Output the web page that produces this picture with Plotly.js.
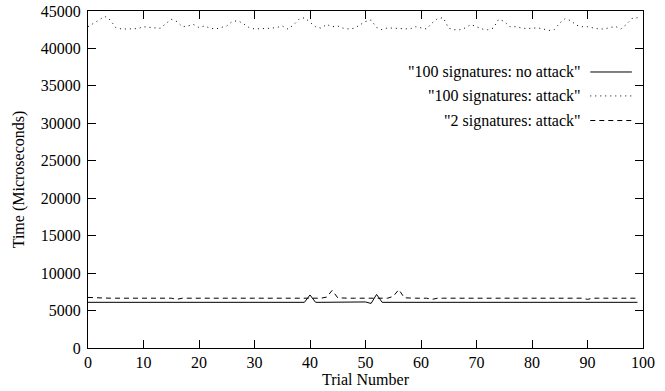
<!DOCTYPE html>
<html>
<head>
<meta charset="utf-8">
<script src="https://cdn.plot.ly/plotly-3.0.1.min.js"></script>
<style>html,body{margin:0;padding:0;background:#fff;}#chart{width:665px;height:391px;}</style>
</head>
<body>
<div id="chart"></div>
<script>
// Trial numbers 0..99
var trials = [];
for (var i = 0; i < 100; i++) trials.push(i);

var seriesNames = ['"100 signatures: no attack"', '"100 signatures: attack"', '"2 signatures: attack"'];

var noAttack100 = [
6100,6100,6100,6100,6100,6100,6100,6100,6100,6100,
6100,6100,6100,6100,6100,6100,6100,6100,6100,6100,
6100,6100,6100,6100,6100,6100,6100,6100,6100,6100,
6100,6100,6100,6100,6100,6100,6100,6100,6100,6100,
7080,6100,6100,6100,6100,6100,6100,6100,6100,6100,
6150,5950,7150,6100,6100,6100,6100,6100,6100,6100,
6100,6100,6100,6100,6100,6100,6100,6100,6100,6100,
6100,6100,6100,6100,6100,6100,6100,6100,6100,6100,
6100,6100,6100,6100,6100,6100,6100,6100,6100,6100,
6100,6100,6100,6100,6100,6100,6100,6100,6100,6100
];

var attack100 = [
42900,43300,43800,44300,43800,42800,42600,42600,42600,42650,
42900,42800,42750,42700,43300,43900,43600,42900,43000,43200,
42800,43000,42700,42600,42800,43000,43600,43700,43300,42800,
42600,42600,42600,42700,42800,43000,42600,43100,43900,44100,
43500,42900,42700,43200,42900,43000,42700,42600,42700,43200,
43600,43800,42800,42500,42750,42700,42700,42700,42600,42900,
42750,42600,43400,44000,44100,42700,42500,42500,42750,43200,
42900,42600,42500,42700,43900,43600,42900,42900,42750,42650,
42700,42750,42600,42400,42500,43400,44000,43700,43100,42900,
42900,42750,42600,42600,42800,42950,42600,43200,44000,44100
];

var attack2 = [
6750,6700,6650,6650,6650,6650,6650,6650,6650,6650,
6650,6650,6650,6650,6650,6650,6500,6650,6650,6650,
6650,6650,6650,6650,6650,6650,6650,6650,6650,6650,
6650,6650,6650,6650,6650,6650,6650,6650,6650,6650,
6700,6650,6650,6800,7700,6700,6650,6650,6650,6650,
6650,6650,6650,6700,6650,6900,7800,6700,6650,6650,
6650,6650,6500,6650,6650,6650,6650,6650,6650,6650,
6650,6650,6650,6650,6650,6650,6650,6650,6650,6550,
6650,6650,6650,6650,6650,6650,6650,6650,6650,6650,
6500,6650,6650,6650,6650,6650,6650,6650,6650,6650
];

var xTickVals = [0,10,20,30,40,50,60,70,80,90,100];
var yTickVals = [0,5000,10000,15000,20000,25000,30000,35000,40000,45000];

var dashes = ['solid', '1px,4px', '5px,4px'];
var seriesData = [noAttack100, attack100, attack2];

var traces = seriesData.map(function (ys, k) {
  return {
    x: trials, y: ys, type: 'scatter', mode: 'lines', name: seriesNames[k],
    line: {color: '#000', width: 1, dash: dashes[k]}, showlegend: false, hoverinfo: 'skip'
  };
});

var font = {family: '"Liberation Serif", "Times New Roman", serif', size: 16, color: '#000'};

// custom gnuplot-style legend: text right-aligned, sample line to the right
var legendY = [0.819, 0.748, 0.675];
var annotations = [], shapes = [];
seriesNames.forEach(function (n, k) {
  annotations.push({xref: 'paper', yref: 'paper', x: 0.892, y: legendY[k], xanchor: 'right', yanchor: 'middle',
    text: n, showarrow: false, font: font});
  shapes.push({type: 'line', xref: 'paper', yref: 'paper', x0: 0.905, x1: 0.980, y0: legendY[k], y1: legendY[k],
    line: {color: '#000', width: 1, dash: dashes[k]}});
});

var axisCommon = {
  showline: true, linecolor: '#000', linewidth: 1, mirror: 'ticks',
  ticks: 'inside', ticklen: 8, tickcolor: '#000', tickwidth: 1,
  showgrid: false, zeroline: false, tickfont: font
};

var layout = {
  width: 665, height: 391,
  margin: {l: 88, r: 22, t: 11, b: 43, pad: 0},
  paper_bgcolor: '#fff', plot_bgcolor: '#fff',
  font: font,
  xaxis: Object.assign({}, axisCommon, {range: [0, 100], tickvals: xTickVals, ticktext: xTickVals.map(String),
    title: {text: 'Trial Number', font: font, standoff: 0}}),
  yaxis: Object.assign({}, axisCommon, {range: [0, 45000], tickvals: yTickVals, ticktext: yTickVals.map(String),
    ticklabelstandoff: 3,
    title: {text: 'Time (Microseconds)', font: font, standoff: 12}}),
  annotations: annotations,
  shapes: shapes
};

Plotly.newPlot('chart', traces, layout, {staticPlot: true, displayModeBar: false});
</script>
</body>
</html>
